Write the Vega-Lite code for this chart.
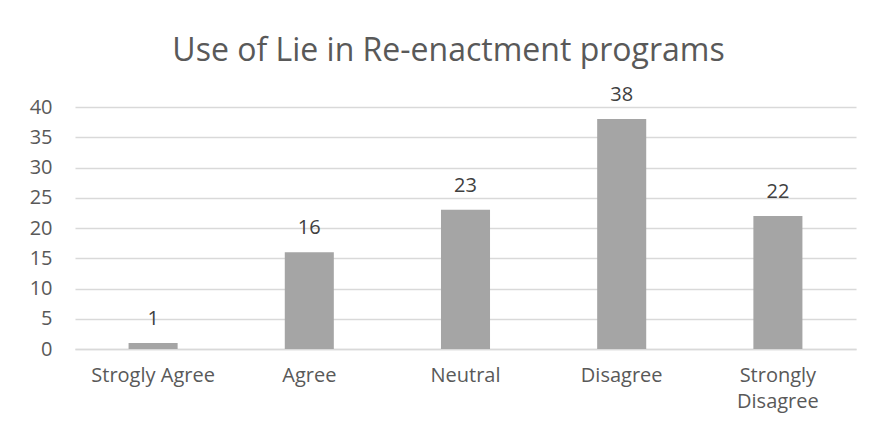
{
  "$schema": "https://vega.github.io/schema/vega-lite/v6.json",
  "width": 781,
  "height": 242,
  "autosize": {"type": "none"},
  "padding": {"left": 75, "top": 107, "right": 15, "bottom": 88},
  "background": "white",
  "title": {
    "text": "Use of Lie in Re-enactment programs",
    "font": "Open Sans",
    "fontSize": 32,
    "fontWeight": "normal",
    "color": "#595959",
    "anchor": "middle",
    "dx": -17,
    "offset": 17
  },
  "data": {
    "values": [
      {"category": "Strogly Agree", "value": 1},
      {"category": "Agree", "value": 16},
      {"category": "Neutral", "value": 23},
      {"category": "Disagree", "value": 38},
      {"category": "Strongly Disagree", "value": 22}
    ]
  },
  "encoding": {
    "x": {
      "field": "category",
      "type": "nominal",
      "sort": null,
      "scale": {"paddingInner": 0.686, "paddingOuter": 0.343},
      "axis": {
        "title": null,
        "labelAngle": 0,
        "labelFont": "Open Sans",
        "labelFontSize": 20,
        "labelColor": "#595959",
        "labelPadding": 16,
        "labelLineHeight": 26,
        "labelExpr": "datum.label == 'Strongly Disagree' ? ['Strongly', 'Disagree'] : datum.label",
        "ticks": false,
        "domainColor": "#D9D9D9",
        "domainWidth": 1.5
      }
    },
    "y": {
      "field": "value",
      "type": "quantitative",
      "scale": {"domain": [0, 40], "nice": false},
      "axis": {
        "title": null,
        "values": [0, 5, 10, 15, 20, 25, 30, 35, 40],
        "labelFont": "Open Sans",
        "labelFontSize": 20,
        "labelColor": "#595959",
        "labelPadding": 23,
        "ticks": false,
        "domain": false,
        "gridColor": "#D9D9D9",
        "gridWidth": 1.5
      }
    }
  },
  "layer": [
    {"mark": {"type": "bar", "color": "#A5A5A5"}},
    {
      "mark": {
        "type": "text",
        "font": "Open Sans",
        "fontSize": 20,
        "color": "#404040",
        "baseline": "alphabetic",
        "dy": -18
      },
      "encoding": {"text": {"field": "value", "type": "quantitative"}}
    }
  ],
  "config": {"view": {"stroke": null}}
}
